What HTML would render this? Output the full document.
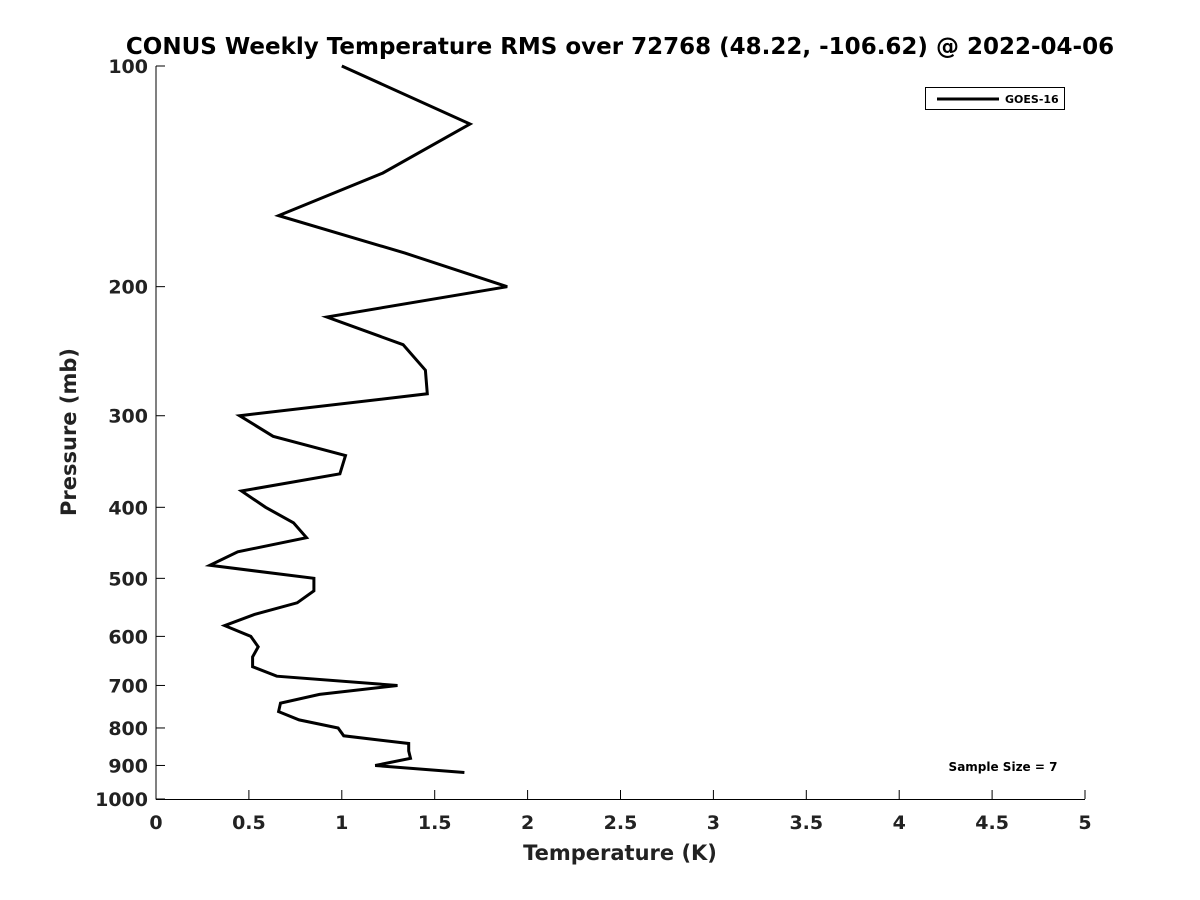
<!DOCTYPE html>
<html><head><meta charset="utf-8"><style>
body{margin:0;background:#fff;}
svg{display:block;font-family:"DejaVu Sans","Liberation Sans",sans-serif;}
</style></head><body>
<svg id="chart" width="1200" height="900" viewBox="0 0 1200 900">
<text x="620" y="54" text-anchor="middle" font-size="23" font-weight="bold" fill="#000">CONUS Weekly Temperature RMS over 72768 (48.22, -106.62) @ 2022-04-06</text>
<g id="axes"></g>
<g id="series"></g>
<text x="620" y="860" text-anchor="middle" font-size="21" font-weight="bold" fill="#222">Temperature (K)</text>
<text transform="translate(76,432) rotate(-90)" text-anchor="middle" font-size="21" font-weight="bold" fill="#222">Pressure (mb)</text>
<g>
<rect x="925.5" y="87.5" width="139" height="22" fill="#fff" stroke="#000" stroke-width="1"/>
<line x1="937" y1="99" x2="999" y2="99" stroke="#000" stroke-width="3"/>
<text x="1005" y="103" font-size="11" font-weight="bold" fill="#000">GOES-16</text>
</g>
<text x="1003" y="771" text-anchor="middle" font-size="12" font-weight="bold" fill="#000">Sample Size = 7</text>
</svg>
<script>
const xTicks=[0,0.5,1,1.5,2,2.5,3,3.5,4,4.5,5];
const xTickLabels=["0","0.5","1","1.5","2","2.5","3","3.5","4","4.5","5"];
const yTicks=[100,200,300,400,500,600,700,800,900,1000];
const pressures=[100,120,140,160,180,200,220,240,260,280,300,320,340,360,380,400,420,440,460,480,500,520,540,560,580,600,620,640,660,680,700,720,740,760,780,800,820,840,860,880,900,920];
const temps=[1.0,1.69,1.22,0.66,1.34,1.89,0.92,1.33,1.45,1.46,0.45,0.63,1.02,0.99,0.46,0.59,0.74,0.81,0.44,0.29,0.85,0.85,0.76,0.53,0.37,0.51,0.55,0.52,0.52,0.65,1.30,0.88,0.67,0.66,0.77,0.98,1.01,1.36,1.36,1.37,1.18,1.66];
const X0=156,X1=1085,Y0=66,Y1=799;
function xs(v){return X0+(v-0)/(5-0)*(X1-X0);}
function ys(p){return Y0+(Math.log10(p)-2)/(3-2)*(Y1-Y0);}
const NS="http://www.w3.org/2000/svg";
const axes=document.getElementById('axes');
function mk(tag,attrs,parent){const e=document.createElementNS(NS,tag);for(const k in attrs)e.setAttribute(k,attrs[k]);parent.appendChild(e);return e;}
let l=mk('line',{x1:X0,y1:Y0,x2:X0,y2:Y1+0.5,stroke:'#000','stroke-width':1},axes);


l=mk('line',{x1:X0,y1:Y1+0.5,x2:X1,y2:Y1+0.5,stroke:'#000','stroke-width':1},axes);


xTicks.forEach((v,i)=>{
 const x=xs(v);
 const t=mk('line',{x1:x,y1:Y1,x2:x,y2:Y1-9,stroke:'#000'},axes);
 
 
 const tx=mk('text',{x:x,y:Y1+30,'text-anchor':'middle','font-size':19,'font-weight':'bold',fill:'#222'},axes);
 tx.textContent=xTickLabels[i];
 
 
});
yTicks.forEach(p=>{
 const y=ys(p);
 const t=mk('line',{x1:X0,y1:y,x2:X0+9,y2:y,stroke:'#000'},axes);
 
 
 const tx=mk('text',{x:X0-8,y:y+7,'text-anchor':'end','font-size':19,'font-weight':'bold',fill:'#222'},axes);
 tx.textContent=String(p);
 
 
});
const pts=temps.map((t,i)=>xs(t).toFixed(1)+','+ys(pressures[i]).toFixed(1)).join(' ');
const line=mk('polyline',{points:pts,fill:'none',stroke:'#000','stroke-width':3,'stroke-linejoin':'miter'},document.getElementById('series'));


</script>
</body></html>
